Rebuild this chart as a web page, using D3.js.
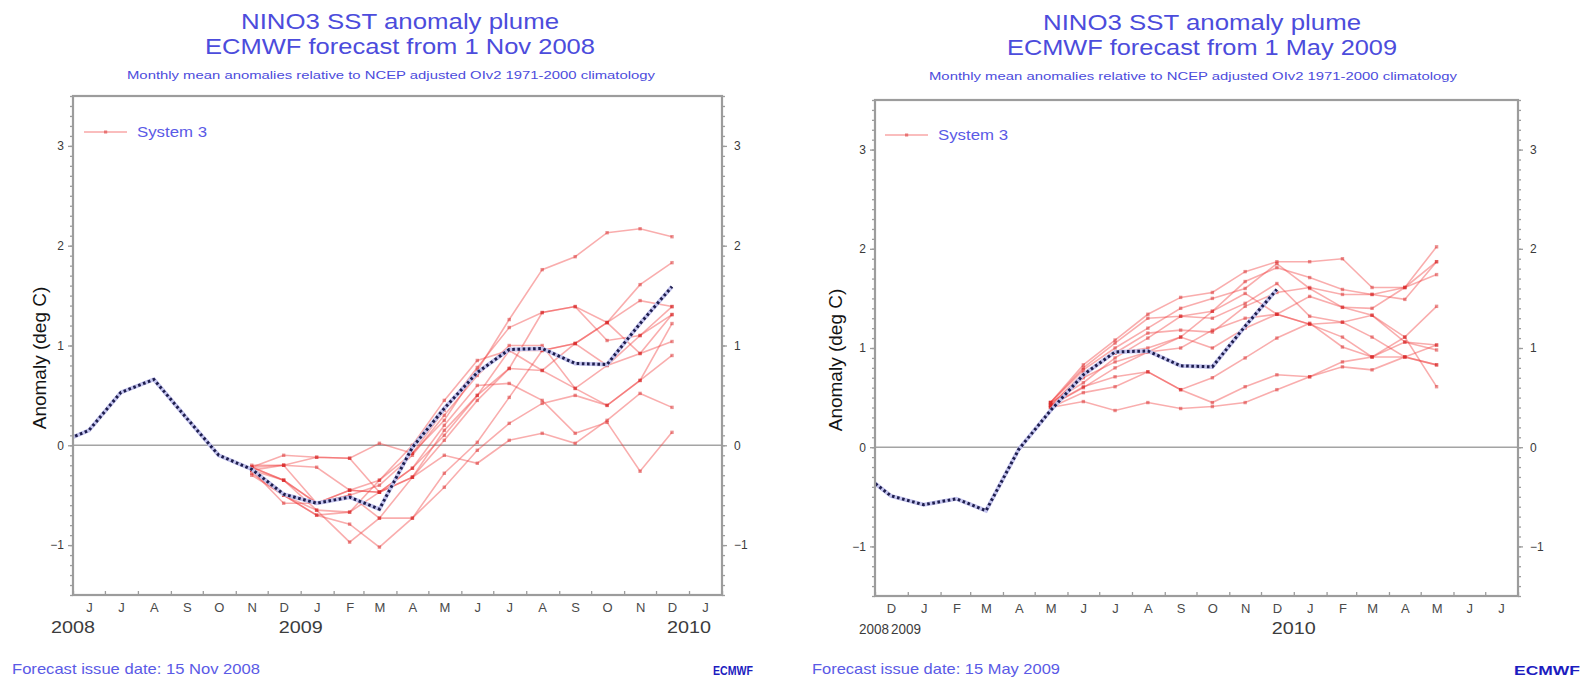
<!DOCTYPE html>
<html>
<head>
<meta charset="utf-8">
<script src="https://cdn.jsdelivr.net/npm/d3@7"></script>
<style>
  html, body { margin: 0; padding: 0; background: #fff; }
  svg { display: block; font-family: "Liberation Sans", Arial, Helvetica, sans-serif; }
</style>
</head>
<body>
<svg id="chart" width="1586" height="679"></svg>
<script>
// ---- data ---------------------------------------------------------------
const monthLetters = ["J", "F", "M", "A", "M", "J", "J", "A", "S", "O", "N", "D"];
const yTickValues = [-1, 0, 1, 2, 3];
const legendLabel = "System 3";
const yAxisTitle = "Anomaly (deg C)";

// observed NINO3 monthly anomalies, May 2008 .. Dec 2009
const observedStart = { year: 2008, month: 4 };
const observed = [0.01, 0.15, 0.53, 0.66, 0.27, -0.10, -0.24, -0.49, -0.58, -0.52,
                  -0.64, -0.02, 0.37, 0.73, 0.96, 0.97, 0.82, 0.81, 1.22, 1.59];

// System 3 ensemble, forecast from 1 Nov 2008 (Nov 2008 .. Dec 2009)
const novStart = { year: 2008, month: 10 };
const novMembers = [
  [-0.22, -0.10, -0.12, -0.13,  0.02, -0.08,  0.25,  0.75, 1.26, 1.76, 1.89, 2.13, 2.17, 2.09],
  [-0.25, -0.35, -0.58, -0.45, -0.35, -0.08,  0.35,  0.78, 1.18, 1.33, 1.39, 1.23, 1.61, 1.83],
  [-0.20, -0.20, -0.22, -0.45, -0.47, -0.23,  0.10,  0.50, 0.95, 0.95, 1.02, 0.80, 1.10, 1.39],
  [-0.28, -0.50, -0.65, -0.67, -0.47, -0.32,  0.05,  0.45, 0.77, 0.75, 0.57, 0.80, 0.92, 1.31],
  [-0.25, -0.58, -0.58, -0.50, -0.73, -0.73, -0.28,  0.03, 0.48, 0.95, 1.02, 1.23, 0.92, 1.04],
  [-0.30, -0.50, -0.70, -0.79, -1.02, -0.73, -0.42, -0.05, 0.22, 0.42, 0.50, 0.40, 0.65, 0.90],
  [-0.22, -0.35, -0.65, -0.97, -0.73, -0.32, -0.10, -0.18, 0.05, 0.12, 0.02, 0.25, 0.52, 0.38],
  [-0.25, -0.20, -0.58, -0.45, -0.47, -0.23,  0.20,  0.60, 0.62, 0.45, 0.12, 0.23, -0.26, 0.13],
  [-0.22, -0.35, -0.58, -0.50, -0.40, -0.10,  0.30,  0.70, 1.00, 1.00, 0.57, 0.40, 0.65, 1.22],
  [-0.25, -0.50, -0.70, -0.67, -0.35,  0.00,  0.45,  0.85, 0.95, 0.75, 1.02, 1.23, 1.45, 1.39],
  [-0.22, -0.20, -0.12, -0.13, -0.47, -0.32,  0.15,  0.50, 0.77, 1.33, 1.39, 1.05, 1.10, 1.31]
];

// System 3 ensemble, forecast from 1 May 2009 (May 2009 .. May 2010)
const mayStart = { year: 2009, month: 4 };
const mayMembers = [
  [0.45, 0.83, 1.08, 1.34, 1.51, 1.56, 1.77, 1.87, 1.87, 1.90, 1.61, 1.61, 2.02],
  [0.45, 0.80, 1.05, 1.30, 1.32, 1.37, 1.67, 1.81, 1.71, 1.59, 1.54, 1.49, 1.87],
  [0.42, 0.75, 0.95, 1.15, 1.18, 1.16, 1.42, 1.56, 1.61, 1.54, 1.54, 1.61, 1.74],
  [0.40, 0.70, 0.86, 0.96, 1.11, 1.00, 1.20, 1.34, 1.52, 1.41, 1.33, 1.11, 1.42],
  [0.42, 0.61, 0.71, 0.76, 0.58, 0.45, 0.61, 0.73, 0.71, 0.86, 0.91, 1.06, 1.03],
  [0.40, 0.46, 0.37, 0.45, 0.39, 0.41, 0.45, 0.58, 0.71, 0.81, 0.78, 0.91, 0.83],
  [0.45, 0.65, 0.90, 1.10, 1.32, 1.30, 1.45, 1.65, 1.32, 1.26, 1.33, 1.06, 0.98],
  [0.43, 0.72, 0.95, 1.00, 1.11, 1.37, 1.55, 1.34, 1.24, 1.11, 0.91, 1.11, 0.61],
  [0.40, 0.55, 0.61, 0.76, 0.58, 0.70, 0.90, 1.10, 1.25, 1.01, 0.91, 0.91, 1.03],
  [0.45, 0.78, 1.00, 1.20, 1.40, 1.50, 1.60, 1.85, 1.60, 1.41, 1.40, 1.61, 1.87],
  [0.42, 0.60, 0.80, 0.96, 1.00, 1.18, 1.30, 1.34, 1.24, 1.26, 1.11, 0.91, 0.83]
];

const novTitles = ["NINO3 SST anomaly plume", "ECMWF forecast from 1 Nov 2008",
  "Monthly mean anomalies relative to NCEP adjusted OIv2 1971-2000 climatology"];
const mayTitles = ["NINO3 SST anomaly plume", "ECMWF forecast from 1 May 2009",
  "Monthly mean anomalies relative to NCEP adjusted OIv2 1971-2000 climatology"];
const novIssue = "Forecast issue date: 15 Nov 2008";
const mayIssue = "Forecast issue date: 15 May 2009";

// ---- drawing ------------------------------------------------------------
const svg = d3.select("#chart");
const defs = svg.append("defs");
const TITLE_BLUE = "#4c4cdc";
const AXIS_GREY = "#9c9c9c";

const midMonth = (start, i) => new Date(start.year, start.month + i, 16);

function fit(sel, width) {
  return sel.attr("textLength", width).attr("lengthAdjust", "spacingAndGlyphs");
}

function drawPanel(p) {
  const g = svg.append("g");
  const x = d3.scaleTime().domain([p.start, p.end]).range([p.left, p.right]);
  const y = d3.scaleLinear().domain([-1.5, 3.5]).range([p.bottom, p.top]);

  // titles
  const ty = p.titleY;
  fit(g.append("text").attr("x", p.cx).attr("y", ty[0]).attr("text-anchor", "middle")
    .attr("font-size", 22).attr("fill", TITLE_BLUE).text(p.titles[0]), 318);
  fit(g.append("text").attr("x", p.cx).attr("y", ty[1]).attr("text-anchor", "middle")
    .attr("font-size", 22).attr("fill", TITLE_BLUE).text(p.titles[1]), 390);
  fit(g.append("text").attr("x", p.cx - 9).attr("y", ty[2]).attr("text-anchor", "middle")
    .attr("font-size", 10.5).attr("fill", TITLE_BLUE).text(p.titles[2]), 528);

  const clipId = "clip-" + p.id;
  defs.append("clipPath").attr("id", clipId).append("rect")
    .attr("x", p.left).attr("y", p.top)
    .attr("width", p.right - p.left).attr("height", p.bottom - p.top);
  const plot = g.append("g").attr("clip-path", `url(#${clipId})`);

  // zero line
  plot.append("line")
    .attr("x1", p.left).attr("x2", p.right).attr("y1", y(0)).attr("y2", y(0))
    .attr("stroke", "#a4a4a4").attr("stroke-width", 1.6);

  // ensemble members
  const line = d3.line().x(d => x(d.date)).y(d => y(d.v));
  const members = p.members.map(m => m.map((v, i) => ({ date: midMonth(p.fcStart, i), v })));
  const mg = plot.append("g");
  mg.selectAll("path.member").data(members).join("path")
    .attr("class", "member")
    .attr("d", line)
    .attr("fill", "none")
    .attr("stroke", "#f03c3c")
    .attr("stroke-opacity", 0.42)
    .attr("stroke-width", 1.6);
  mg.selectAll("g.marks").data(members).join("g").attr("class", "marks")
    .selectAll("rect").data(d => d).join("rect")
    .attr("x", d => x(d.date) - 1.7).attr("y", d => y(d.v) - 1.7)
    .attr("width", 3.4).attr("height", 3.4)
    .attr("fill", "#d82828").attr("fill-opacity", 0.5);

  // observed anomalies
  const obs = observed.map((v, i) => ({ date: midMonth(observedStart, i), v }));
  plot.append("path").datum(obs).attr("d", line)
    .attr("fill", "none").attr("stroke", "#c4c4ee").attr("stroke-width", 4);
  plot.append("path").datum(obs).attr("d", line)
    .attr("fill", "none").attr("stroke", "#1e1e4e").attr("stroke-width", 3)
    .attr("stroke-dasharray", "2.6 2.6");

  // legend
  const lg = g.append("g");
  lg.append("line").attr("x1", p.legendX).attr("x2", p.legendX + 43)
    .attr("y1", p.legendY).attr("y2", p.legendY)
    .attr("stroke", "#f03c3c").attr("stroke-opacity", 0.45).attr("stroke-width", 1.5);
  lg.append("rect").attr("x", p.legendX + 20).attr("y", p.legendY - 1.6)
    .attr("width", 3.2).attr("height", 3.2).attr("fill", "#d82828").attr("fill-opacity", 0.5);
  fit(lg.append("text").attr("x", p.legendX + 53).attr("y", p.legendY + 5)
    .attr("font-size", 14).attr("fill", "#5a5ae6").text(legendLabel), 70);

  // frame
  g.append("rect").attr("x", p.left).attr("y", p.top)
    .attr("width", p.right - p.left).attr("height", p.bottom - p.top)
    .attr("fill", "none").attr("stroke", AXIS_GREY).attr("stroke-width", 2.2);

  // y axes, minor and major ticks on both sides
  const minor = d3.range(-15, 36).map(i => i / 10);
  const styleAxis = a => {
    a.select(".domain").remove();
    a.selectAll(".tick line").attr("stroke", AXIS_GREY).attr("stroke-width", 1.3);
    a.selectAll(".tick text").attr("font-size", 12).attr("fill", "#3a3a3a")
      .attr("font-family", "'Liberation Sans', Arial, sans-serif");
  };
  g.append("g").attr("transform", `translate(${p.left},0)`)
    .call(d3.axisLeft(y).tickValues(minor).tickSize(3).tickFormat("")).call(styleAxis);
  g.append("g").attr("transform", `translate(${p.left},0)`)
    .call(d3.axisLeft(y).tickValues(yTickValues).tickSize(5).tickPadding(4)
      .tickFormat(d3.format("d"))).call(styleAxis);
  g.append("g").attr("transform", `translate(${p.right},0)`)
    .call(d3.axisRight(y).tickValues(minor).tickSize(3).tickFormat("")).call(styleAxis);
  g.append("g").attr("transform", `translate(${p.right},0)`)
    .call(d3.axisRight(y).tickValues(yTickValues).tickSize(5).tickPadding(7)
      .tickFormat(d3.format("d"))).call(styleAxis);

  // x axis: month boundary ticks and month letters
  g.append("g").attr("transform", `translate(0,${p.bottom})`)
    .call(d3.axisBottom(x).ticks(d3.timeMonth.every(1)).tickSize(-4).tickSizeOuter(0).tickFormat(""))
    .call(a => {
      a.select(".domain").remove();
      a.selectAll(".tick line").attr("stroke", AXIS_GREY).attr("stroke-width", 1.3);
    });
  const mids = d3.timeMonth.range(p.start, p.end).map(d => new Date(d.getFullYear(), d.getMonth(), 16));
  g.append("g").attr("transform", `translate(0,${p.bottom})`)
    .call(d3.axisBottom(x).tickValues(mids).tickSize(0).tickPadding(8)
      .tickFormat(d => monthLetters[d.getMonth()]))
    .call(a => {
      a.select(".domain").remove();
      a.selectAll(".tick text").attr("font-size", 13).attr("fill", "#4a4a4a")
        .attr("font-family", "'Liberation Sans', Arial, sans-serif");
    });

  // year labels: at the axis start and at each new year; when the axis
  // starts just before January the two labels sit side by side
  const years = [p.start].concat(d3.timeYear.range(p.start, p.end));
  years.forEach((d, i) => {
    const crowded = (i === 0 && years.length > 1 && x(years[1]) - x(d) < 44) ||
                    (i === 1 && x(d) - x(years[0]) < 44);
    const t = g.append("text").attr("y", p.bottom + 38).attr("font-size", crowded ? 15 : 17)
      .attr("fill", "#3c3c3c").text(d.getFullYear());
    if (crowded && i === 0) t.attr("x", x(d) + 14).attr("text-anchor", "end");
    else if (crowded) t.attr("x", x(years[0]) + 16).attr("text-anchor", "start");
    else t.attr("x", x(d)).attr("text-anchor", "middle");
    fit(t, crowded ? 30 : 44);
  });

  // y axis title
  g.append("text")
    .attr("transform", `translate(${p.ylabelX},${p.ylabelY}) rotate(-90)`)
    .attr("text-anchor", "middle").attr("font-size", 19).attr("fill", "#141414")
    .text(yAxisTitle);

  // issue date and logo
  fit(g.append("text").attr("x", p.issueX).attr("y", 674).attr("font-size", 15)
    .attr("fill", "#5a5ae6").text(p.issue), 248);
  fit(g.append("text").attr("x", p.logoX).attr("y", 675).attr("font-size", 13)
    .attr("font-weight", "bold").attr("fill", "#1c1cc0").text("ECMWF"), p.logoW);
}

drawPanel({
  id: "nov", left: 73, right: 722, top: 96, bottom: 595,
  start: new Date(2008, 5, 1), end: new Date(2010, 1, 1),
  fcStart: novStart, members: novMembers, titles: novTitles, issue: novIssue,
  cx: 400, titleY: [29, 54, 79], legendX: 84, legendY: 132,
  ylabelX: 46, ylabelY: 358, issueX: 12, logoX: 713, logoW: 40
});
drawPanel({
  id: "may", left: 875, right: 1518, top: 100, bottom: 596,
  start: new Date(2008, 11, 1), end: new Date(2010, 7, 1),
  fcStart: mayStart, members: mayMembers, titles: mayTitles, issue: mayIssue,
  cx: 1202, titleY: [30, 55, 80], legendX: 885, legendY: 135,
  ylabelX: 842, ylabelY: 360, issueX: 812, logoX: 1514, logoW: 66
});
</script>
</body>
</html>
